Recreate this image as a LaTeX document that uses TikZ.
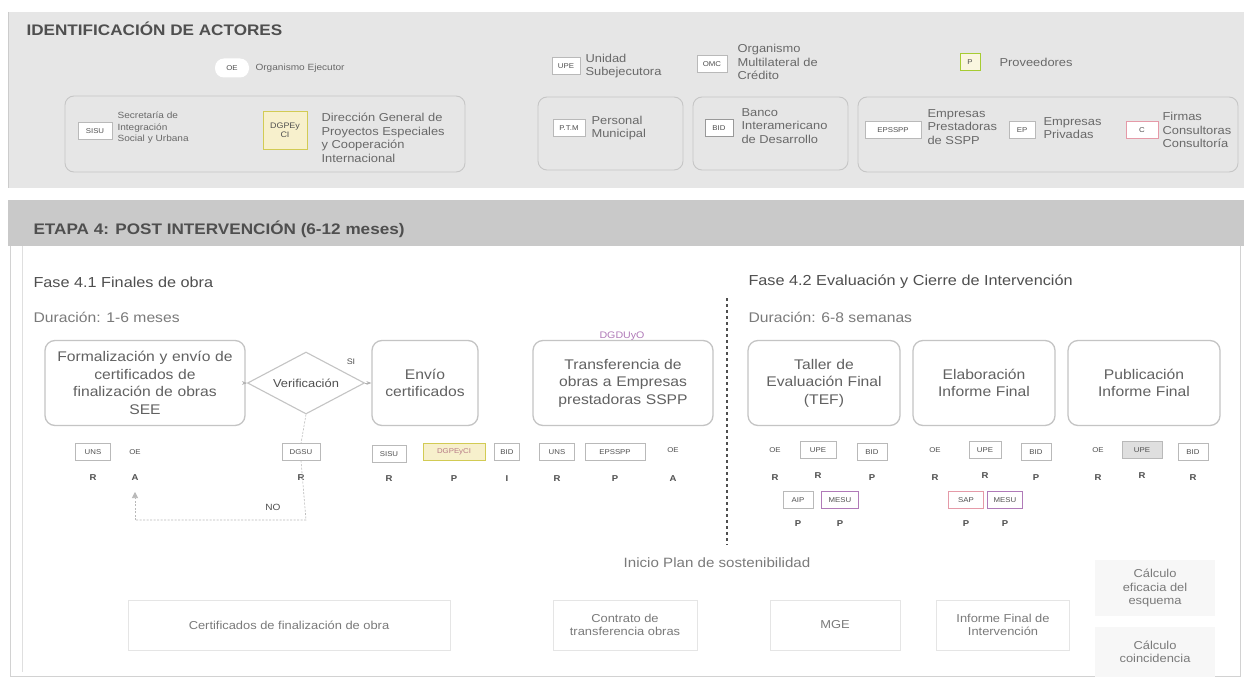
\documentclass[tikz,border=0pt]{standalone}
\usepackage{fontspec}
\setmainfont[FakeStretch=1.12]{Liberation Sans}
\usetikzlibrary{shapes.geometric,arrows.meta}
\definecolor{ink}{HTML}{4F4F4F}
\definecolor{soft}{HTML}{7A7A7A}
\definecolor{band}{HTML}{E6E6E6}
\definecolor{stage}{HTML}{C9C9C9}
\definecolor{frame}{HTML}{C4C4C4}
\definecolor{yel}{HTML}{F7F0CC}
\definecolor{plum}{HTML}{B07AB8}
\definecolor{rose}{HTML}{E59AA8}
\begin{document}
\begin{tikzpicture}[x=1pt,y=-1pt,
  proc/.style={draw=frame, line width=1.3pt, rounded corners=10pt, fill=white,
    align=center, text=ink!90, font=\fontsize{14}{17.5}\selectfont, inner sep=2pt,
    minimum height=85pt},
  chip/.style={draw=gray!55, fill=white, font=\fontsize{7}{8}\selectfont,
    text=ink, inner sep=1.5pt, minimum height=17pt, minimum width=30pt},
  bare/.style={chip, draw=none, fill=none},
  role/.style={font=\fontsize{8.5}{9}\selectfont\bfseries, text=ink},
  legend/.style={font=\fontsize{11.5}{13.5}\selectfont, text=ink!85, align=left, anchor=west},
  small legend/.style={legend, font=\fontsize{9}{11.5}\selectfont},
  grp/.style={draw=gray!45, line width=0.9pt, rounded corners=9pt},
  outbox/.style={draw=gray!20, line width=0.8pt, fill=white, align=center,
    font=\fontsize{11.5}{13.5}\selectfont, text=soft},
  link/.style={draw=gray!60, line width=0.6pt, -{Stealth[length=5pt]}},
  loopline/.style={draw=gray!55, line width=0.6pt, dash pattern=on 2pt off 1.5pt},
  phase/.style={font=\fontsize{14.5}{16}\selectfont, text=ink, anchor=west},
  dur/.style={font=\fontsize{14}{16}\selectfont, text=soft, anchor=west}]
\useasboundingbox (0,0) rectangle (1244,682);
\fill[white] (0,0) rectangle (1244,682);

% ---------------- actors band ----------------
\fill[band] (8,12) rectangle (1244,188);
\draw[gray!40, line width=0.8pt] (8,12) -- (8,188);
\node[anchor=west, font=\fontsize{15.3}{17}\selectfont\bfseries, text=ink] (ttl) at (23,29) {IDENTIFICACIÓN DE ACTORES};

\node[draw=none, fill=white, rounded corners=9pt, minimum width=34pt, minimum height=19pt,
      font=\fontsize{7}{8}\selectfont, text=ink] (oe) at (232,68) {OE};
\node[small legend] (oet) at (252,68) {Organismo Ejecutor};

\node[chip, minimum width=28pt] (upe) at (566,66) {UPE};
\node[legend] (upet) at (582,66) {Unidad\\Subejecutora};
\node[chip] (omc) at (712,64) {OMC};
\node[legend] (omct) at (734,62) {Organismo\\Multilateral de\\Crédito};
\node[chip, draw=green!25!yellow!60!gray, fill=yel!60, minimum width=20pt] (prov) at (970,62) {P};
\node[legend] (provt) at (996,62) {Proveedores};

\draw[grp] (65,96) rectangle (465,172);
\draw[grp] (538,97) rectangle (683,170);
\draw[grp] (693,97) rectangle (848,170);
\draw[grp] (858,97) rectangle (1238,172);

\node[chip, minimum width=34pt] (sisu) at (95,131) {SISU};
\node[small legend] (sisut) at (114,128) {Secretaría de\\Integración\\Social y Urbana};
\node[chip, draw=yellow!60!gray, fill=yel, minimum height=38pt, minimum width=44pt, align=center,
      font=\fontsize{8}{9.5}\selectfont] (dgpe) at (285,130) {DGPEy\\CI};
\node[legend] (dgpet) at (318,138) {Dirección General de\\Proyectos Especiales\\y Cooperación\\Internacional};

\node[chip, minimum width=32pt] (ptm) at (569,128) {P.T.M};
\node[legend] (ptmt) at (588,128) {Personal\\Municipal};
\node[chip, draw=gray!80, line width=0.9pt, minimum width=28pt] (bidh) at (719,128) {BID};
\node[legend] (bidt) at (738,126) {Banco\\Interamericano\\de Desarrollo};

\node[chip, minimum width=56pt] (eps) at (893,130) {EPSSPP};
\node[legend] (epst) at (924,127) {Empresas\\Prestadoras\\de SSPP};
\node[chip, minimum width=26pt] (ep) at (1022,130) {EP};
\node[legend] (ept) at (1040,128) {Empresas\\Privadas};
\node[chip, draw=rose, minimum width=32pt] (cons) at (1142,130) {C};
\node[legend] (const) at (1159,130) {Firmas\\Consultoras\\Consultoría};

% ---------------- stage band ----------------
\fill[stage] (8,200) rectangle (1244,246);
\node[anchor=west, font=\fontsize{15.3}{17}\selectfont\bfseries, text=ink] (stg) at (30,229)
  {ETAPA 4: POST INTERVENCIÓN (6-12 meses)};
\draw[gray!35, line width=0.8pt] (10,246) -- (10,676) -- (1240,676) -- (1240,246);
\draw[gray!25, line width=0.8pt] (22,246) -- (22,672);

\node[phase] (f41) at (30,282) {Fase 4.1 Finales de obra};
\node[dur] (d41) at (30,317) {Duración: 1-6 meses};
\node[phase] (f42) at (745,282) {Fase 4.2 Evaluación y Cierre de Intervención};
\node[dur] (d42) at (745,317) {Duración: 6-8 semanas};

\coordinate (sepT) at (727,298);
\coordinate (sepB) at (727,545);
\draw[ink, line width=1.2pt, dash pattern=on 3pt off 3pt] (sepT) -- (sepB);

% ---------------- process steps ----------------
\node[proc, minimum width=200pt, text width=194pt] (p1) at (145,383)
  {Formalización y envío de\\certificados de\\finalización de obras\\SEE};
\node[draw=frame, line width=1.1pt, diamond, aspect=1.9, minimum width=117pt, minimum height=62pt,
      inner sep=0pt, fill=white] (dec) at (306,383) {};
\node[text=ink, font=\fontsize{11.5}{13}\selectfont] (declbl) at (dec.center) {Verificación};
\node[proc, minimum width=106pt, text width=100pt] (p3) at (425,383) {Envío\\certificados};
\node[proc, minimum width=180pt, text width=172pt] (p4) at (623,383)
  {Transferencia de\\obras a Empresas\\prestadoras SSPP};
\node[font=\fontsize{9.5}{11}\selectfont, text=plum] (dgdu) at (622,336) {DGDUyO};
\node[proc, minimum width=152pt, text width=148pt] (p5) at (824,383)
  {Taller de\\Evaluación Final\\(TEF)};
\node[proc, minimum width=142pt, text width=138pt] (p6) at (984,383)
  {Elaboración\\Informe Final};
\node[proc, minimum width=152pt, text width=148pt] (p7) at (1144,383)
  {Publicación\\Informe Final};

\draw[link] (p1.east) -- (dec.west);
\draw[link] (dec.east) -- (p3.west);
\node[font=\fontsize{8}{9}\selectfont, text=ink] (si) at (351,362) {SI};

% ---------------- actors per step ----------------
% step 1 and decision
\node[chip, minimum width=35pt] (a1) at (93,452) {UNS};   \node[role] (r1) at (93,478) {R};
\node[bare] (a2) at (135,452) {OE};   \node[role] (r2) at (135,478) {A};
\node[chip, minimum width=38pt] (a3) at (301,452) {DGSU}; \node[role] (r3) at (301,478) {R};

\coordinate (loopA) at (306,520);
\coordinate (loopB) at (135,520);
\coordinate (loopEnd) at (135,492);
\draw[loopline] (dec.south) -- (a3.north);
\draw[loopline] (a3.south) -- (loopA) -- (loopB);
\draw[loopline, -{Triangle[length=6pt,width=6pt]}] (loopB) -- (loopEnd);
\node[font=\fontsize{9}{10}\selectfont, text=ink] (no) at (273,507) {NO};

% step 3
\node[chip, minimum width=34pt] (b1) at (389,454) {SISU}; \node[role] (s1) at (389,479) {R};
\node[chip, draw=yellow!60!gray, fill=yel, minimum width=62pt, text=rose!80!black] (b2) at (454,452) {DGPEyCI};
\node[role] (s2) at (454,479) {P};
\node[chip, minimum width=25pt] (b3) at (507,452) {BID};   \node[role] (s3) at (507,479) {I};

% step 4
\node[chip, minimum width=35pt] (c1) at (557,452) {UNS};   \node[role] (t1) at (557,479) {R};
\node[chip, minimum width=60pt] (c2) at (615,452) {EPSSPP}; \node[role] (t2) at (615,479) {P};
\node[bare] (c3) at (673,450) {OE};                        \node[role] (t3) at (673,479) {A};

% step 5
\node[bare] (e1) at (775,450) {OE};                        \node[role] (u1) at (775,478) {R};
\node[chip, minimum width=36pt] (e2) at (818,450) {UPE};   \node[role] (u2) at (818,476) {R};
\node[chip] (e3) at (872,452) {BID};                       \node[role] (u3) at (872,478) {P};
\node[chip, minimum width=30pt] (e4) at (798,500) {AIP};   \node[role] (u4) at (798,524) {P};
\node[chip, draw=plum, minimum width=37pt] (e5) at (840,500) {MESU}; \node[role] (u5) at (840,524) {P};

% step 6
\node[bare] (g1) at (935,450) {OE};                        \node[role] (v1) at (935,478) {R};
\node[chip, minimum width=32pt] (g2) at (985,450) {UPE};   \node[role] (v2) at (985,476) {R};
\node[chip] (g3) at (1036,452) {BID};                      \node[role] (v3) at (1036,478) {P};
\node[chip, draw=rose, minimum width=35pt] (g4) at (966,500) {SAP};  \node[role] (v4) at (966,524) {P};
\node[chip, draw=plum, minimum width=35pt] (g5) at (1005,500) {MESU}; \node[role] (v5) at (1005,524) {P};

% step 7
\node[bare] (h1) at (1098,450) {OE};                       \node[role] (w1) at (1098,478) {R};
\node[chip, fill=gray!25, minimum width=40pt] (h2) at (1142,450) {UPE}; \node[role] (w2) at (1142,476) {R};
\node[chip] (h3) at (1193,452) {BID};                      \node[role] (w3) at (1193,478) {R};

% ---------------- outputs ----------------
\node[font=\fontsize{13.5}{15}\selectfont, text=soft] (plan) at (717,563) {Inicio Plan de sostenibilidad};
\node[outbox, minimum width=322pt, minimum height=50pt] (o1) at (289,625) {Certificados de finalización de obra};
\node[outbox, minimum width=144pt, minimum height=50pt] (o2) at (625,625) {Contrato de\\transferencia obras};
\node[outbox, minimum width=130pt, minimum height=50pt] (o3) at (835,625) {MGE};
\node[outbox, minimum width=133pt, minimum height=50pt] (o4) at (1003,625) {Informe Final de\\Intervención};
\node[outbox, draw=none, fill=gray!6, minimum width=120pt, minimum height=56pt] (o5) at (1155,588) {Cálculo\\eficacia del\\esquema};
\node[outbox, draw=none, fill=gray!6, minimum width=120pt, minimum height=50pt] (o6) at (1155,652) {Cálculo\\coincidencia};
\end{tikzpicture}
\end{document}
